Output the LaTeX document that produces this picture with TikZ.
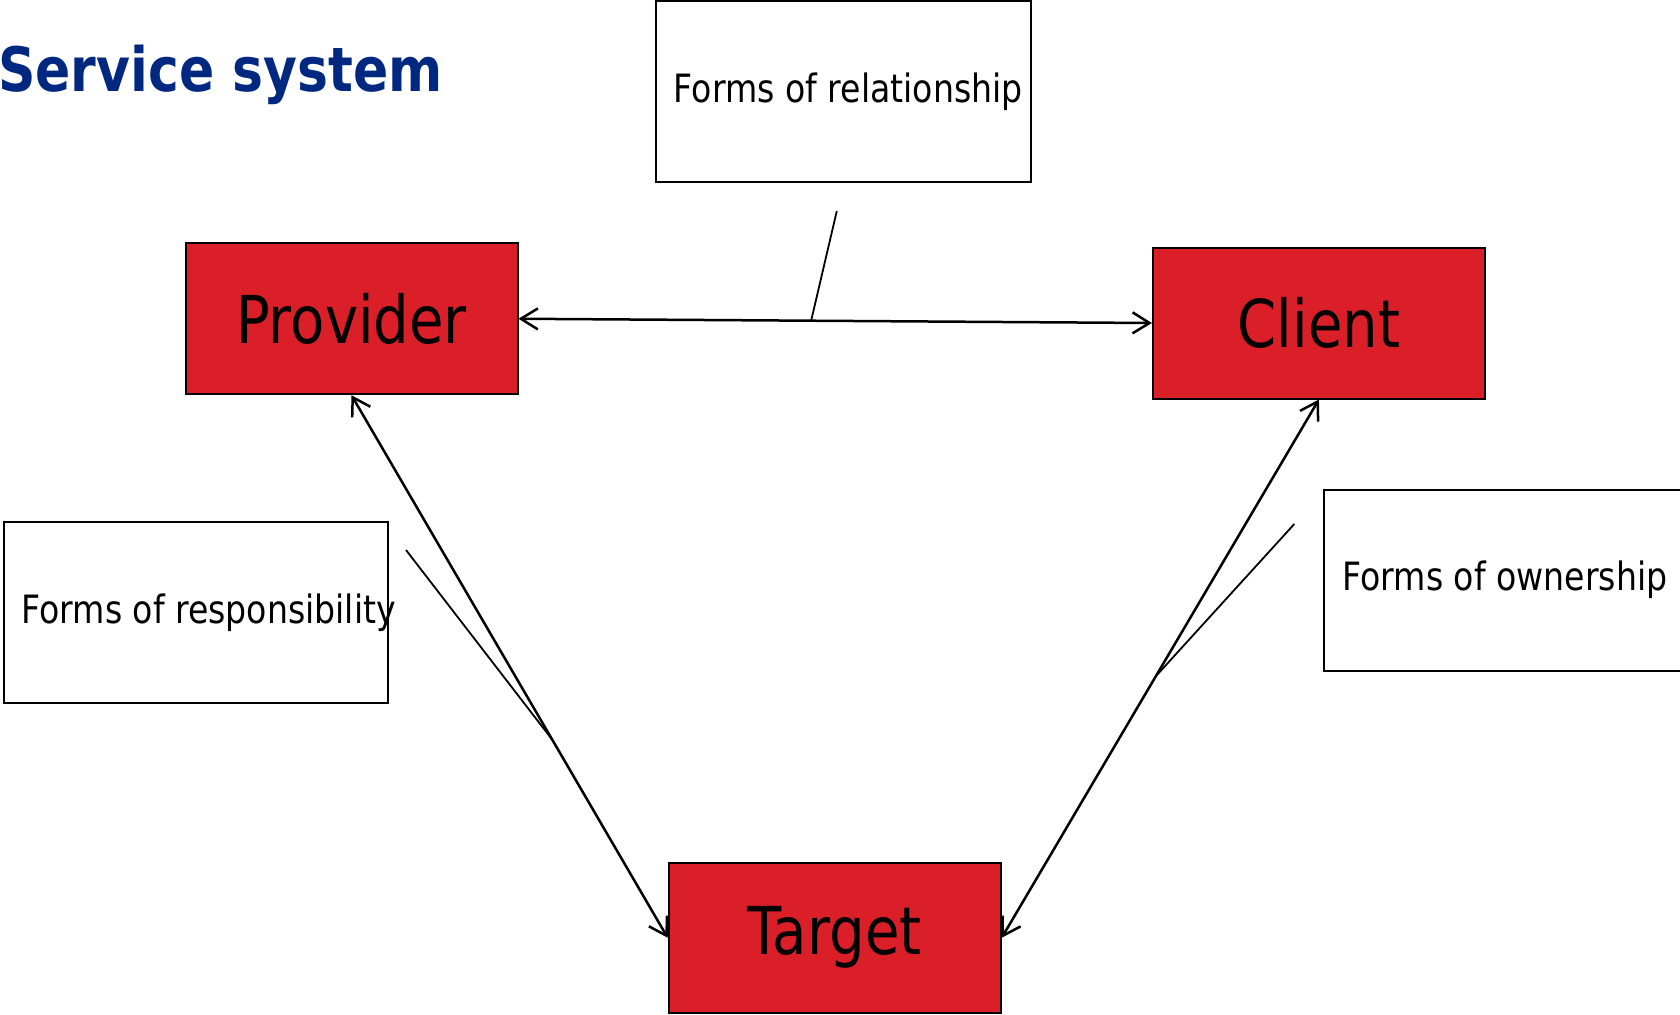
\documentclass[tikz,border=0pt]{standalone}
\usepackage{fontspec}
\setmainfont{DejaVu Sans}[FakeStretch=0.85]
\usepackage{tikz}
\usetikzlibrary{arrows.meta,positioning}
\definecolor{boxred}{RGB}{218,31,40}
\definecolor{titleblue}{RGB}{0,40,128}

\begin{document}
\begin{tikzpicture}[x=1pt,y=-1pt]
\tikzstyle{every node}+=[inner sep=0pt]
\tikzstyle{party}=[draw=black, fill=boxred, line width=2pt, minimum width=332pt, minimum height=151pt, font=\fontsize{66}{72}\selectfont]
\tikzstyle{formbox}=[draw=black, fill=white, line width=2pt, minimum height=181pt]
\tikzstyle{formtext}=[anchor=west, font=\fontsize{39}{45}\selectfont]
\tikzstyle{link}=[line width=2.5pt, {Straight Barb[length=17pt,width=21pt]}-{Straight Barb[length=17pt,width=21pt]}]
\tikzstyle{pointer}=[line width=1.8pt]
\useasboundingbox (0,0) rectangle (1680,1014);
% title
\node[anchor=base west, text=titleblue, font=\fontsize{61.2}{67}\selectfont\bfseries] (title) at (-2,91.7) {Service system};
% the three parties
\node[party] (provider) at (351.5,318.75) {Provider};
\node[party] (client) at (1318.9,323) {Client};
\node[party, minimum height=150.5pt] (target) at (834.7,937.75) {Target};
% the forms
\node[formbox, minimum width=375pt] (relbox) at (843.2,91.6) {};
\node[formtext, right=19pt of relbox.west] (reltext) {Forms of relationship};
\node[formbox, minimum width=383.6pt] (respbox) at (196.1,612.35) {};
\node[formtext, right=18pt of respbox.west] (resptext) {Forms of responsibility};
\node[formbox, minimum width=375pt] (ownbox) at (1511.8,580.2) {};
\node[formtext, right=19pt of ownbox.west] (owntext) {Forms of ownership};
% links between the parties
\draw[link] (provider.east) -- coordinate[pos=0.462] (relfoot) (client.west);
\draw[link] (provider.south) -- coordinate[pos=0.635] (respfoot) (target.west);
\draw[link] (client.south) -- coordinate[pos=0.514] (ownfoot) (target.east);
% pointers from the forms
\coordinate (relhead) at (836.8,211);
\coordinate (resphead) at (406,550);
\coordinate (ownhead) at (1294.3,524);
\draw[pointer] (relhead) -- (relfoot);
\draw[pointer] (resphead) -- (respfoot);
\draw[pointer] (ownhead) -- (ownfoot);
\end{tikzpicture}
\end{document}
